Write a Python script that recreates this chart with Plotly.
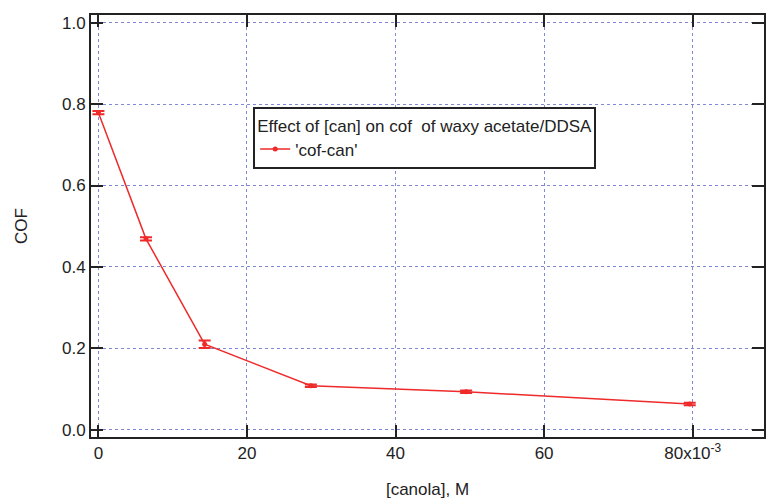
import plotly.graph_objects as go

canola = [0, 6.4, 14.3, 28.6, 49.5, 79.6]          # x10^-3 M
cof = [0.779, 0.469, 0.210, 0.108, 0.093, 0.063]
cof_err = [0.004, 0.004, 0.009, 0.003, 0.003, 0.003]

x_tickvals = [0, 20, 40, 60, 80]
x_ticktext = ["0", "20", "40", "60", "80x10<sup>-3</sup>"]
y_tickvals = [0.0, 0.2, 0.4, 0.6, 0.8, 1.0]
y_ticktext = ["0.0", "0.2", "0.4", "0.6", "0.8", "1.0"]

red = "#ee2a2a"
axis_col = "#222222"
grid_col = "#8088d8"
FONT = "Liberation Sans, Arial"

fig = go.Figure()
fig.add_trace(go.Scatter(
    x=canola, y=cof, mode="lines+markers", name="'cof-can'",
    line=dict(color=red, width=1.5),
    marker=dict(color=red, size=5, symbol="circle"),
    error_y=dict(type="data", array=cof_err, visible=True, color=red, thickness=2, width=6),
))

axis_common = dict(
    showline=True, linecolor=axis_col, linewidth=2, mirror="ticks",
    ticks="inside", ticklen=12, tickwidth=2, tickcolor=axis_col,
    showgrid=True, gridcolor=grid_col, gridwidth=1, griddash="dot",
    zeroline=False, tickfont=dict(family=FONT, size=17, color=axis_col),
    title_font=dict(family=FONT, size=17, color=axis_col),
)

fig.update_layout(
    width=766, height=499,
    margin=dict(l=91, r=0, t=15, b=61),
    paper_bgcolor="white", plot_bgcolor="white",
    xaxis=dict(range=[-1.0, 89.6], tickvals=x_tickvals, ticktext=x_ticktext,
               title=dict(text="[canola], M", standoff=24), **axis_common),
    yaxis=dict(range=[-0.018, 1.019], tickvals=y_tickvals, ticktext=y_ticktext,
               title=dict(text="COF", standoff=30), **axis_common),
    showlegend=True,
    legend=dict(
        x=0.241, y=0.781, xanchor="left", yanchor="top",
        bgcolor="white", bordercolor=axis_col, borderwidth=2,
        title=dict(text="Effect of [can] on cof  of waxy acetate/DDSA",
                   font=dict(family=FONT, size=17, color=axis_col)),
        font=dict(family=FONT, size=17, color=axis_col),
        tracegroupgap=0, itemwidth=30,
    ),
)

fig.write_html("out.html")
